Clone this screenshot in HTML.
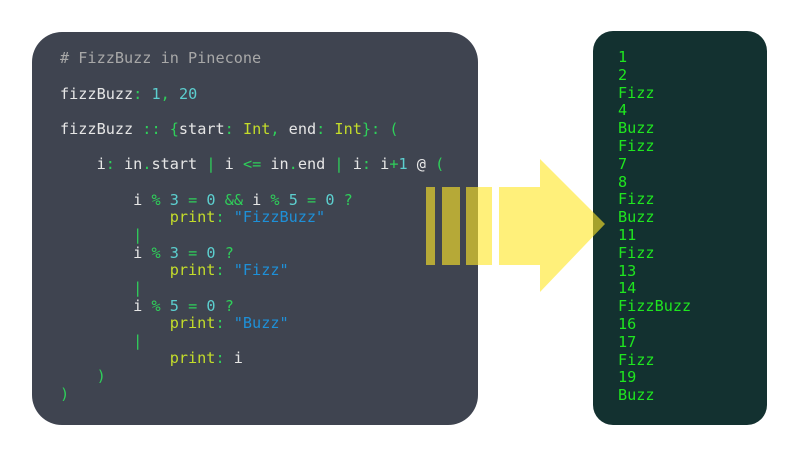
<!DOCTYPE html>
<html><head><meta charset="utf-8"><style>
body{margin:0;width:800px;height:457px;background:#fff;position:relative;overflow:hidden;font-family:"DejaVu Sans Mono","Liberation Mono",monospace;font-size:15.2px}
.p{position:absolute}
#L{left:32px;top:32px;width:446px;height:393px;background:#3f4450;border-radius:30px}
#R{left:593px;top:31px;width:174px;height:394px;background:#133130;border-radius:20px}
.ln{position:absolute;white-space:pre;line-height:18px;color:#e6e6e6}
.g{color:#2fcf5a}.c{color:#5ccfcf}.y{color:#c4dd2a}.b{color:#1e90d8}.m{color:#a8a8a8}
.o{position:absolute;left:618px;color:#1fe61f;line-height:17.8px;white-space:pre}
</style></head><body>
<div class="p" id="L"></div>
<div class="p" id="R"></div>
<div class="ln m" style="left:60px;top:49px"># FizzBuzz in Pinecone</div>
<div class="ln" style="left:60px;top:85px">fizzBuzz<span class="g">:</span> <span class="c">1</span><span class="g">,</span> <span class="c">20</span></div>
<div class="ln" style="left:60px;top:120px">fizzBuzz <span class="g">::</span> <span class="g">{</span>start<span class="g">:</span> <span class="y">Int</span><span class="g">,</span> end<span class="g">:</span> <span class="y">Int</span><span class="g">}:</span> <span class="g">(</span></div>
<div class="ln" style="left:60px;top:155px">    i<span class="g">:</span> in<span class="g">.</span>start <span class="g">|</span> i <span class="g">&lt;=</span> in<span class="g">.</span>end <span class="g">|</span> i<span class="g">:</span> i<span class="g">+</span><span class="c">1</span> @ <span class="g">(</span></div>
<div class="ln" style="left:60px;top:191px">        i <span class="g">%</span> <span class="c">3</span> <span class="g">=</span> <span class="c">0</span> <span class="g">&amp;&amp;</span> i <span class="g">%</span> <span class="c">5</span> <span class="g">=</span> <span class="c">0</span> <span class="g">?</span></div>
<div class="ln" style="left:60px;top:208px">            <span class="y">print</span><span class="g">:</span> <span class="b">"FizzBuzz"</span></div>
<div class="ln g" style="left:60px;top:226px">        |</div>
<div class="ln" style="left:60px;top:244px">        i <span class="g">%</span> <span class="c">3</span> <span class="g">=</span> <span class="c">0</span> <span class="g">?</span></div>
<div class="ln" style="left:60px;top:261px">            <span class="y">print</span><span class="g">:</span> <span class="b">"Fizz"</span></div>
<div class="ln g" style="left:60px;top:279px">        |</div>
<div class="ln" style="left:60px;top:297px">        i <span class="g">%</span> <span class="c">5</span> <span class="g">=</span> <span class="c">0</span> <span class="g">?</span></div>
<div class="ln" style="left:60px;top:314px">            <span class="y">print</span><span class="g">:</span> <span class="b">"Buzz"</span></div>
<div class="ln g" style="left:60px;top:332px">        |</div>
<div class="ln" style="left:60px;top:349px">            <span class="y">print</span><span class="g">:</span> i</div>
<div class="ln g" style="left:60px;top:367px">    )</div>
<div class="ln g" style="left:60px;top:385px">)</div>
<div class="o" style="top:49px">1
2
Fizz
4
Buzz
Fizz
7
8
Fizz
Buzz
11
Fizz
13
14
FizzBuzz
16
17
Fizz
19
Buzz</div>
<svg class="p" style="left:0;top:0" width="800" height="457">
<g fill="rgb(255,230,40)" fill-opacity="0.62">
<rect x="426" y="187" width="9" height="78"/>
<rect x="442" y="187" width="18" height="78"/>
<rect x="466" y="187" width="26" height="78"/>
<polygon points="499,187 540,187 540,159 605,224 540,292 540,265 499,265"/>
</g>
</svg>
</body></html>
